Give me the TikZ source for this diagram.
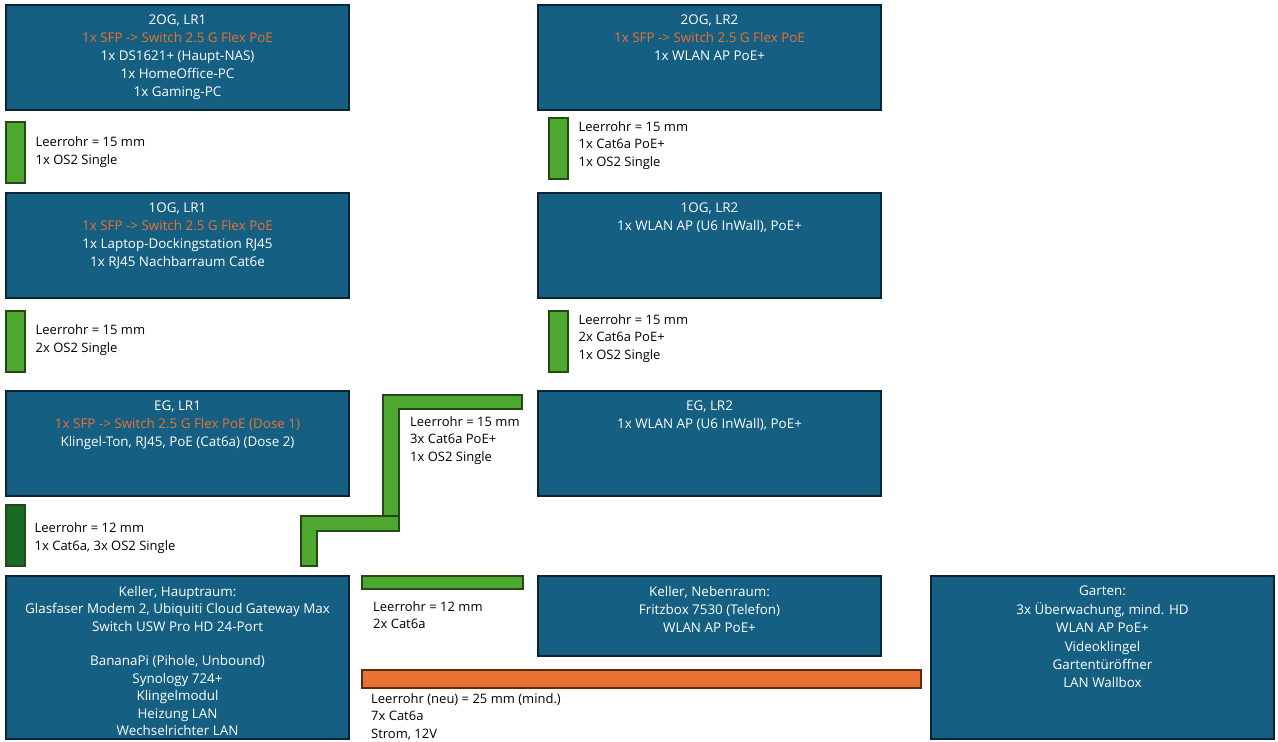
\documentclass[tikz,border=0pt]{standalone}
\usepackage{fontspec}
\setmainfont{Open Sans}
\usepackage{xcolor}
\usepackage{tikz}
\usetikzlibrary{positioning}

\definecolor{roomblue}{HTML}{156082}
\definecolor{roomline}{HTML}{0B2535}
\definecolor{sfporange}{HTML}{E97132}
\definecolor{pipegreen}{HTML}{4EA72E}
\definecolor{pipeline}{HTML}{234A16}
\definecolor{pipedark}{HTML}{196B24}
\definecolor{pipeorange}{HTML}{E97132}
\definecolor{orangeline}{HTML}{5E2A10}

\tikzset{
  room/.style={rectangle, draw=roomline, line width=2pt, fill=roomblue, anchor=north west,
    minimum width=343pt, minimum height=105pt, inner sep=0pt},
  roomtext/.style={anchor=north, align=center, text=white, inner sep=0pt,
    font=\fontsize{13.4}{18}\selectfont},
  pipe/.style={rectangle, draw=pipeline, line width=1.5pt, fill=pipegreen, anchor=north west,
    minimum width=19pt, minimum height=61pt, inner sep=0pt},
  note/.style={anchor=west, align=left, inner sep=0pt, font=\fontsize{13}{17.6}\selectfont},
  sfp/.style={text=sfporange}
}

\begin{document}
\begin{tikzpicture}[x=1pt, y=-1pt]
\useasboundingbox (0,0) rectangle (1278,742);

% rooms
\node [room] (og2a) at (5,4) {};
\node [room] (og2b) at (537,4) {};
\node [room] (og1a) at (5,192) {};
\node [room] (og1b) at (537,192) {};
\node [room] (ega) at (5,390) {};
\node [room] (egb) at (537,390) {};
\node [room, minimum height=163pt] (khaupt) at (5,575) {};
\node [room, minimum height=80pt] (kneben) at (537,575) {};
\node [room, minimum height=163pt] (garten) at (930,575) {};

\node [roomtext] (og2at) at ([yshift=-11pt]og2a.north) {2OG, LR1\\ \textcolor{sfporange}{1x SFP -> Switch 2.5 G Flex PoE}\\ 1x DS1621+ (Haupt-NAS)\\ 1x HomeOffice-PC\\ 1x Gaming-PC};
\node [roomtext] (og2bt) at ([yshift=-11pt]og2b.north) {2OG, LR2\\ \textcolor{sfporange}{1x SFP -> Switch 2.5 G Flex PoE}\\ 1x WLAN AP PoE+};
\node [roomtext] (og1at) at ([yshift=-11pt]og1a.north) {1OG, LR1\\ \textcolor{sfporange}{1x SFP -> Switch 2.5 G Flex PoE}\\ 1x Laptop-Dockingstation RJ45\\ 1x RJ45 Nachbarraum Cat6e};
\node [roomtext] (og1bt) at ([yshift=-11pt]og1b.north) {1OG, LR2\\ 1x WLAN AP (U6 InWall), PoE+};
\node [roomtext] (egat) at ([yshift=-11pt]ega.north) {EG, LR1\\ \textcolor{sfporange}{1x SFP -> Switch 2.5 G Flex PoE (Dose 1)}\\ Klingel-Ton, RJ45, PoE (Cat6a) (Dose 2)};
\node [roomtext] (egbt) at ([yshift=-11pt]egb.north) {EG, LR2\\ 1x WLAN AP (U6 InWall), PoE+};
\node [roomtext, font=\fontsize{13.4}{17.4}\selectfont] (khauptt) at ([yshift=-11pt]khaupt.north) {Keller, Hauptraum:\\ Glasfaser Modem 2, Ubiquiti Cloud Gateway Max\\ Switch USW Pro HD 24-Port\\[17.4pt] BananaPi (Pihole, Unbound)\\ Synology 724+\\ Klingelmodul\\ Heizung LAN\\ Wechselrichter LAN};
\node [roomtext] (knebent) at ([yshift=-11pt]kneben.north) {Keller, Nebenraum:\\ Fritzbox 7530 (Telefon)\\ WLAN AP PoE+};
\node [roomtext, font=\fontsize{13.4}{18.4}\selectfont] (gartent) at ([yshift=-11pt]garten.north) {Garten:\\ 3x Überwachung, mind. HD\\ WLAN AP PoE+\\ Videoklingel\\ Gartentüröffner\\ LAN Wallbox};

% Leerrohre
\node [pipe] (p2a) at (5,121) {};
\node [pipe] (p2b) at (548,117) {};
\node [pipe] (p1a) at (5,310) {};
\node [pipe] (p1b) at (548,310) {};
\node [pipe, fill=pipedark] (pea) at (5,504) {};
\node [pipe, minimum width=161pt, minimum height=13pt] (pkel) at (361,575) {};
\node [pipe, draw=orangeline, fill=pipeorange, minimum width=559pt, minimum height=18pt] (pgar) at (361,669) {};

\draw [draw=pipeline, line width=1.5pt, fill=pipegreen]
  (383,395) -- (522,395) -- (522,409) -- (399,409) -- (399,524) -- (383,524) -- cycle;
\draw [draw=pipeline, line width=1.5pt, fill=pipegreen]
  (301,516) -- (399,516) -- (399,531) -- (317,531) -- (317,566) -- (301,566) -- cycle;

\node [note, right=10pt of p2a] (n2a) {Leerrohr = 15 mm\\ 1x OS2 Single};
\node [note, right=10pt of p2b, yshift=3pt] (n2b) {Leerrohr = 15 mm\\ 1x Cat6a PoE+\\ 1x OS2 Single};
\node [note, right=10pt of p1a, yshift=1pt] (n1a) {Leerrohr = 15 mm\\ 2x OS2 Single};
\node [note, right=10pt of p1b, yshift=3pt] (n1b) {Leerrohr = 15 mm\\ 2x Cat6a PoE+\\ 1x OS2 Single};
\node [note, right=9pt of pea, yshift=-3pt] (nea) {Leerrohr = 12 mm\\ 1x Cat6a, 3x OS2 Single};
\node [note, anchor=north west] (nz) at (410,416) {Leerrohr = 15 mm\\ 3x Cat6a PoE+\\ 1x OS2 Single};
\node [note, anchor=north west] (nkel) at (373,601) {Leerrohr = 12 mm\\ 2x Cat6a};
\node [note, anchor=north west] (ngar) at (371,693) {Leerrohr (neu) = 25 mm (mind.)\\ 7x Cat6a\\ Strom, 12V};
\end{tikzpicture}
\end{document}
